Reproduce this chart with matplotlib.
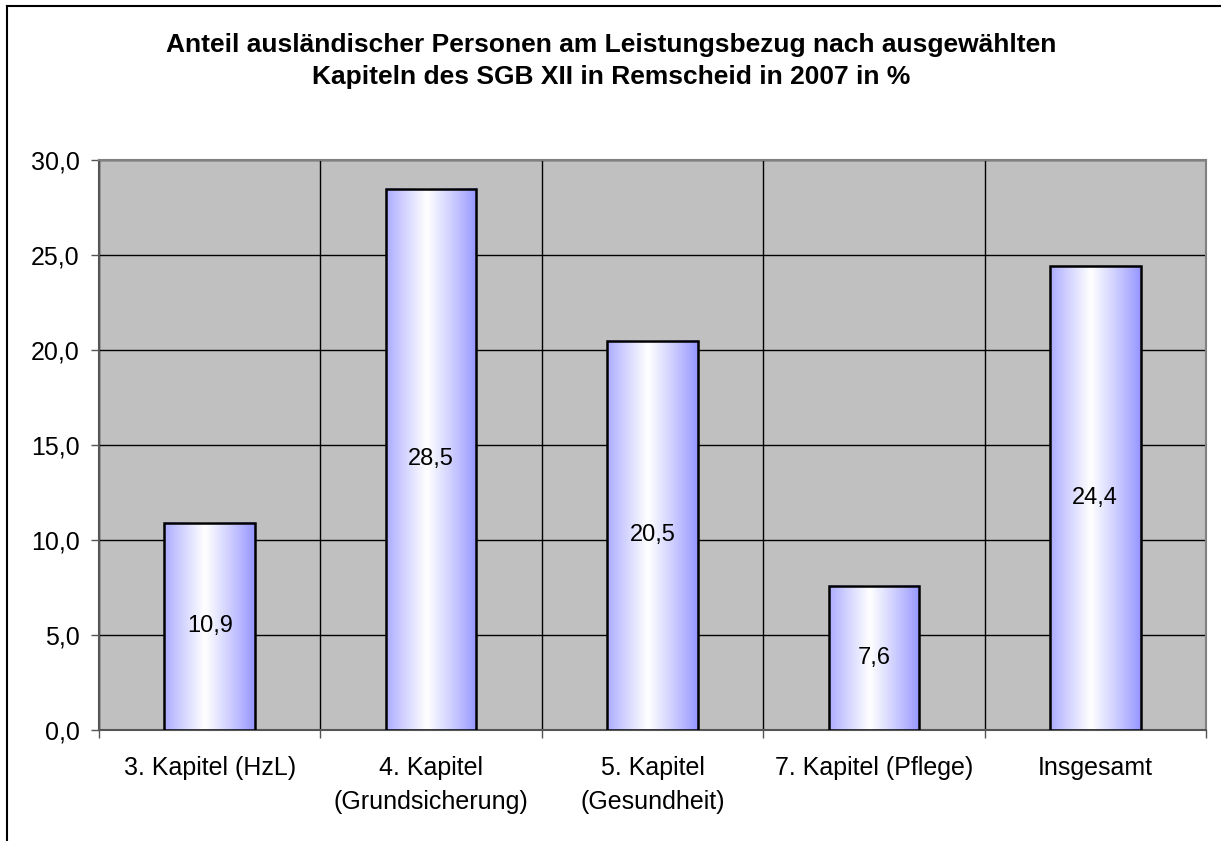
import matplotlib.pyplot as plt
import numpy as np
from matplotlib.lines import Line2D

plt.rcParams['font.family'] = ['Liberation Sans', 'DejaVu Sans']

categories = ["3. Kapitel (HzL)", "4. Kapitel\n(Grundsicherung)", "5. Kapitel\n(Gesundheit)",
              "7. Kapitel (Pflege)", "Insgesamt"]
values = [10.9, 28.5, 20.5, 7.6, 24.4]
yticks = [0, 5, 10, 15, 20, 25, 30]
title = "Anteil ausländischer Personen am Leistungsbezug nach ausgewählten\nKapiteln des SGB XII in Remscheid in 2007 in %"

W, H = 1221, 841
fig = plt.figure(figsize=(W / 100, H / 100), dpi=100)
ax = fig.add_axes([99 / W, 1 - 730 / H, (1206 - 99) / W, (730 - 160) / H])
ax.set_facecolor('#C0C0C0')

x = np.arange(len(values))
bars = ax.bar(x, values, width=0.41, facecolor='none', edgecolor='black', linewidth=1.8, zorder=4)

# horizontal gradient: blue at edges, white near the middle
t = np.linspace(0, 1, 256)
w = np.clip(1 - np.abs(t - 0.45) / 0.55, 0, 1) ** 0.9
blue = np.array([0.58, 0.58, 1.0])
grad = (blue[None, :] * (1 - w[:, None]) + np.ones(3)[None, :] * w[:, None])[None, :, :]
for b in bars:
    x0, y0 = b.get_x(), b.get_y()
    ax.imshow(grad, extent=[x0, x0 + b.get_width(), y0, y0 + b.get_height()],
              aspect='auto', zorder=3, interpolation='bilinear')

for xi, v in zip(x, values):
    ax.text(xi, v / 2, f"{v:.1f}".replace('.', ','), ha='center', va='center',
            fontsize=17, zorder=5)

ax.set_xlim(-0.5, len(values) - 0.5)
ax.set_ylim(0, 30)
ax.set_yticks(yticks)
ax.set_yticklabels([f"{v:.1f}".replace('.', ',') for v in yticks], fontsize=18)
ax.set_xticks(x)
ax.set_xticklabels(categories, fontsize=18, linespacing=1.55)
ax.tick_params(axis='x', which='major', length=0, pad=18.5)
ax.set_xticks(np.arange(len(values) + 1) - 0.5, minor=True)
ax.tick_params(axis='x', which='minor', length=6, color='#555555', width=1)
ax.tick_params(axis='y', length=6, color='#555555', width=1, pad=8)
ax.grid(True, axis='y', color='black', linewidth=1, zorder=1)
ax.grid(True, axis='x', which='minor', color='black', linewidth=1, zorder=1)
ax.set_axisbelow(True)
for s in ['top', 'right']:
    ax.spines[s].set_color('#808080')
    ax.spines[s].set_linewidth(1.5)
for s in ['left', 'bottom']:
    ax.spines[s].set_color('#555555')
    ax.spines[s].set_linewidth(1.5)

fig.text(611 / W, 1 - 61 / H, title, ha='center', va='center', fontsize=19,
         fontweight='bold', linespacing=1.47)

# outer chart border (left and top visible)
fig.add_artist(Line2D([7 / W, 7 / W], [0, 1 - 6 / H], color='black', linewidth=1.5))
fig.add_artist(Line2D([7 / W, 1], [1 - 6 / H, 1 - 6 / H], color='black', linewidth=1.5))

fig.savefig('out.png', dpi=100)
